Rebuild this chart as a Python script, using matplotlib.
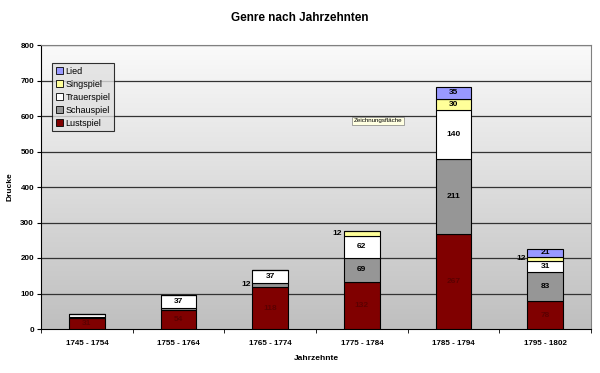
import matplotlib
matplotlib.use("Agg")
import matplotlib.pyplot as plt
import numpy as np
from matplotlib.patches import Patch
from matplotlib.colors import LinearSegmentedColormap

plt.rcParams['font.family'] = ['Liberation Sans', 'DejaVu Sans']

decades = ["1745 - 1754", "1755 - 1764", "1765 - 1774", "1775 - 1784", "1785 - 1794", "1795 - 1802"]
lustspiel = [31, 54, 118, 132, 267, 78]
schauspiel = [3, 5, 12, 69, 211, 83]
trauerspiel = [7, 37, 37, 62, 140, 31]
singspiel = [0, 0, 0, 12, 30, 12]
lied = [0, 0, 0, 0, 35, 21]

series = [("Lustspiel", lustspiel, "#800000"),
          ("Schauspiel", schauspiel, "#969696"),
          ("Trauerspiel", trauerspiel, "#FFFFFF"),
          ("Singspiel", singspiel, "#FFFF99"),
          ("Lied", lied, "#9999FF")]

labels_inside = {(0, 0), (0, 1), (0, 2), (0, 3), (0, 4), (0, 5),
                 (1, 3), (1, 4), (1, 5), (2, 1), (2, 2), (2, 3), (2, 4), (2, 5),
                 (3, 4), (4, 4), (4, 5)}
labels_outside = {(1, 2), (3, 3), (3, 5)}

fig = plt.figure(figsize=(6.0, 3.73), dpi=100)
ax = fig.add_axes([41/600, 44/373, 550/600, 284/373])

cmap = LinearSegmentedColormap.from_list("bg", ["#bfbfbf", "#fafafa"])
grad = np.linspace(0, 1, 256).reshape(-1, 1)
ax.imshow(grad, aspect="auto", cmap=cmap, origin="lower",
          extent=[-0.5, len(decades) - 0.5, 0, 800], zorder=0)

ax.set_xlim(-0.5, len(decades) - 0.5)
ax.set_ylim(0, 800)
ax.set_yticks(range(0, 801, 100))
for yv in range(100, 801, 100):
    ax.axhline(yv, color="#333333", lw=0.9, zorder=1)

x = np.arange(len(decades))
bottom = np.zeros(len(decades))
w = 0.39
for si, (name, vals, col) in enumerate(series):
    vals = np.array(vals, dtype=float)
    ax.bar(x, vals, w, bottom=bottom, color=col, edgecolor="black", lw=0.8, zorder=3)
    for ci, v in enumerate(vals):
        if v <= 0:
            continue
        yc = bottom[ci] + v / 2
        tcol = "#5c0000" if si == 0 else "black"
        if (si, ci) in labels_inside:
            ax.text(x[ci], yc, f"{int(v)}", ha="center", va="center", fontsize=6,
                    fontweight="bold", color=tcol, zorder=4)
        elif (si, ci) in labels_outside:
            ax.text(x[ci] - w / 2 - 0.02, yc, f"{int(v)}", ha="right", va="center",
                    fontsize=6, fontweight="bold", color="black", zorder=4)
    bottom += vals

ax.set_xticks(x)
ax.set_xticklabels(decades, fontsize=5.8, fontweight="bold")
ax.set_xticks(np.arange(-0.5, len(decades)), minor=True)
ax.tick_params(axis="x", which="major", length=0, pad=8)
ax.tick_params(axis="x", which="minor", length=3, direction="out")
ax.tick_params(axis="y", labelsize=5.8, length=3, direction="out", pad=2)
for lbl in ax.get_yticklabels():
    lbl.set_fontweight("bold")

for side in ["top", "right"]:
    ax.spines[side].set_color("#808080")
    ax.spines[side].set_linewidth(0.8)
ax.spines["left"].set_color("black")
ax.spines["bottom"].set_color("black")
ax.spines["left"].set_linewidth(0.8)
ax.spines["bottom"].set_linewidth(0.8)

ax.set_ylabel("Drucke", fontsize=6, fontweight="bold", labelpad=5)
ax.set_xlabel("Jahrzehnte", fontsize=6, fontweight="bold", labelpad=6)
fig.text(0.5, 1 - 18/373, "Genre nach Jahrzehnten", ha="center", va="center",
         fontsize=8.5, fontweight="bold")

handles = [Patch(facecolor=c, edgecolor="black", lw=0.6, label=n) for n, _, c in reversed(series)]
leg = ax.legend(handles=handles, loc="upper left", bbox_to_anchor=(11/550, 1 - 18/284),
                fontsize=6.5, frameon=True, fancybox=False, edgecolor="black",
                handlelength=0.8, handleheight=0.8, handletextpad=0.3,
                borderpad=0.4, labelspacing=0.45, borderaxespad=0)
leg.get_frame().set_facecolor("#e0e0e0")
leg.get_frame().set_linewidth(0.8)
leg.set_zorder(5)

ax.text(3.18, 587, "Zeichnungsfläche", fontsize=4.5, ha="center", va="center",
        zorder=6, bbox=dict(boxstyle="square,pad=0.25", facecolor="#ffffe1",
                            edgecolor="#808080", lw=0.5))

fig.savefig("out.png", dpi=100)
